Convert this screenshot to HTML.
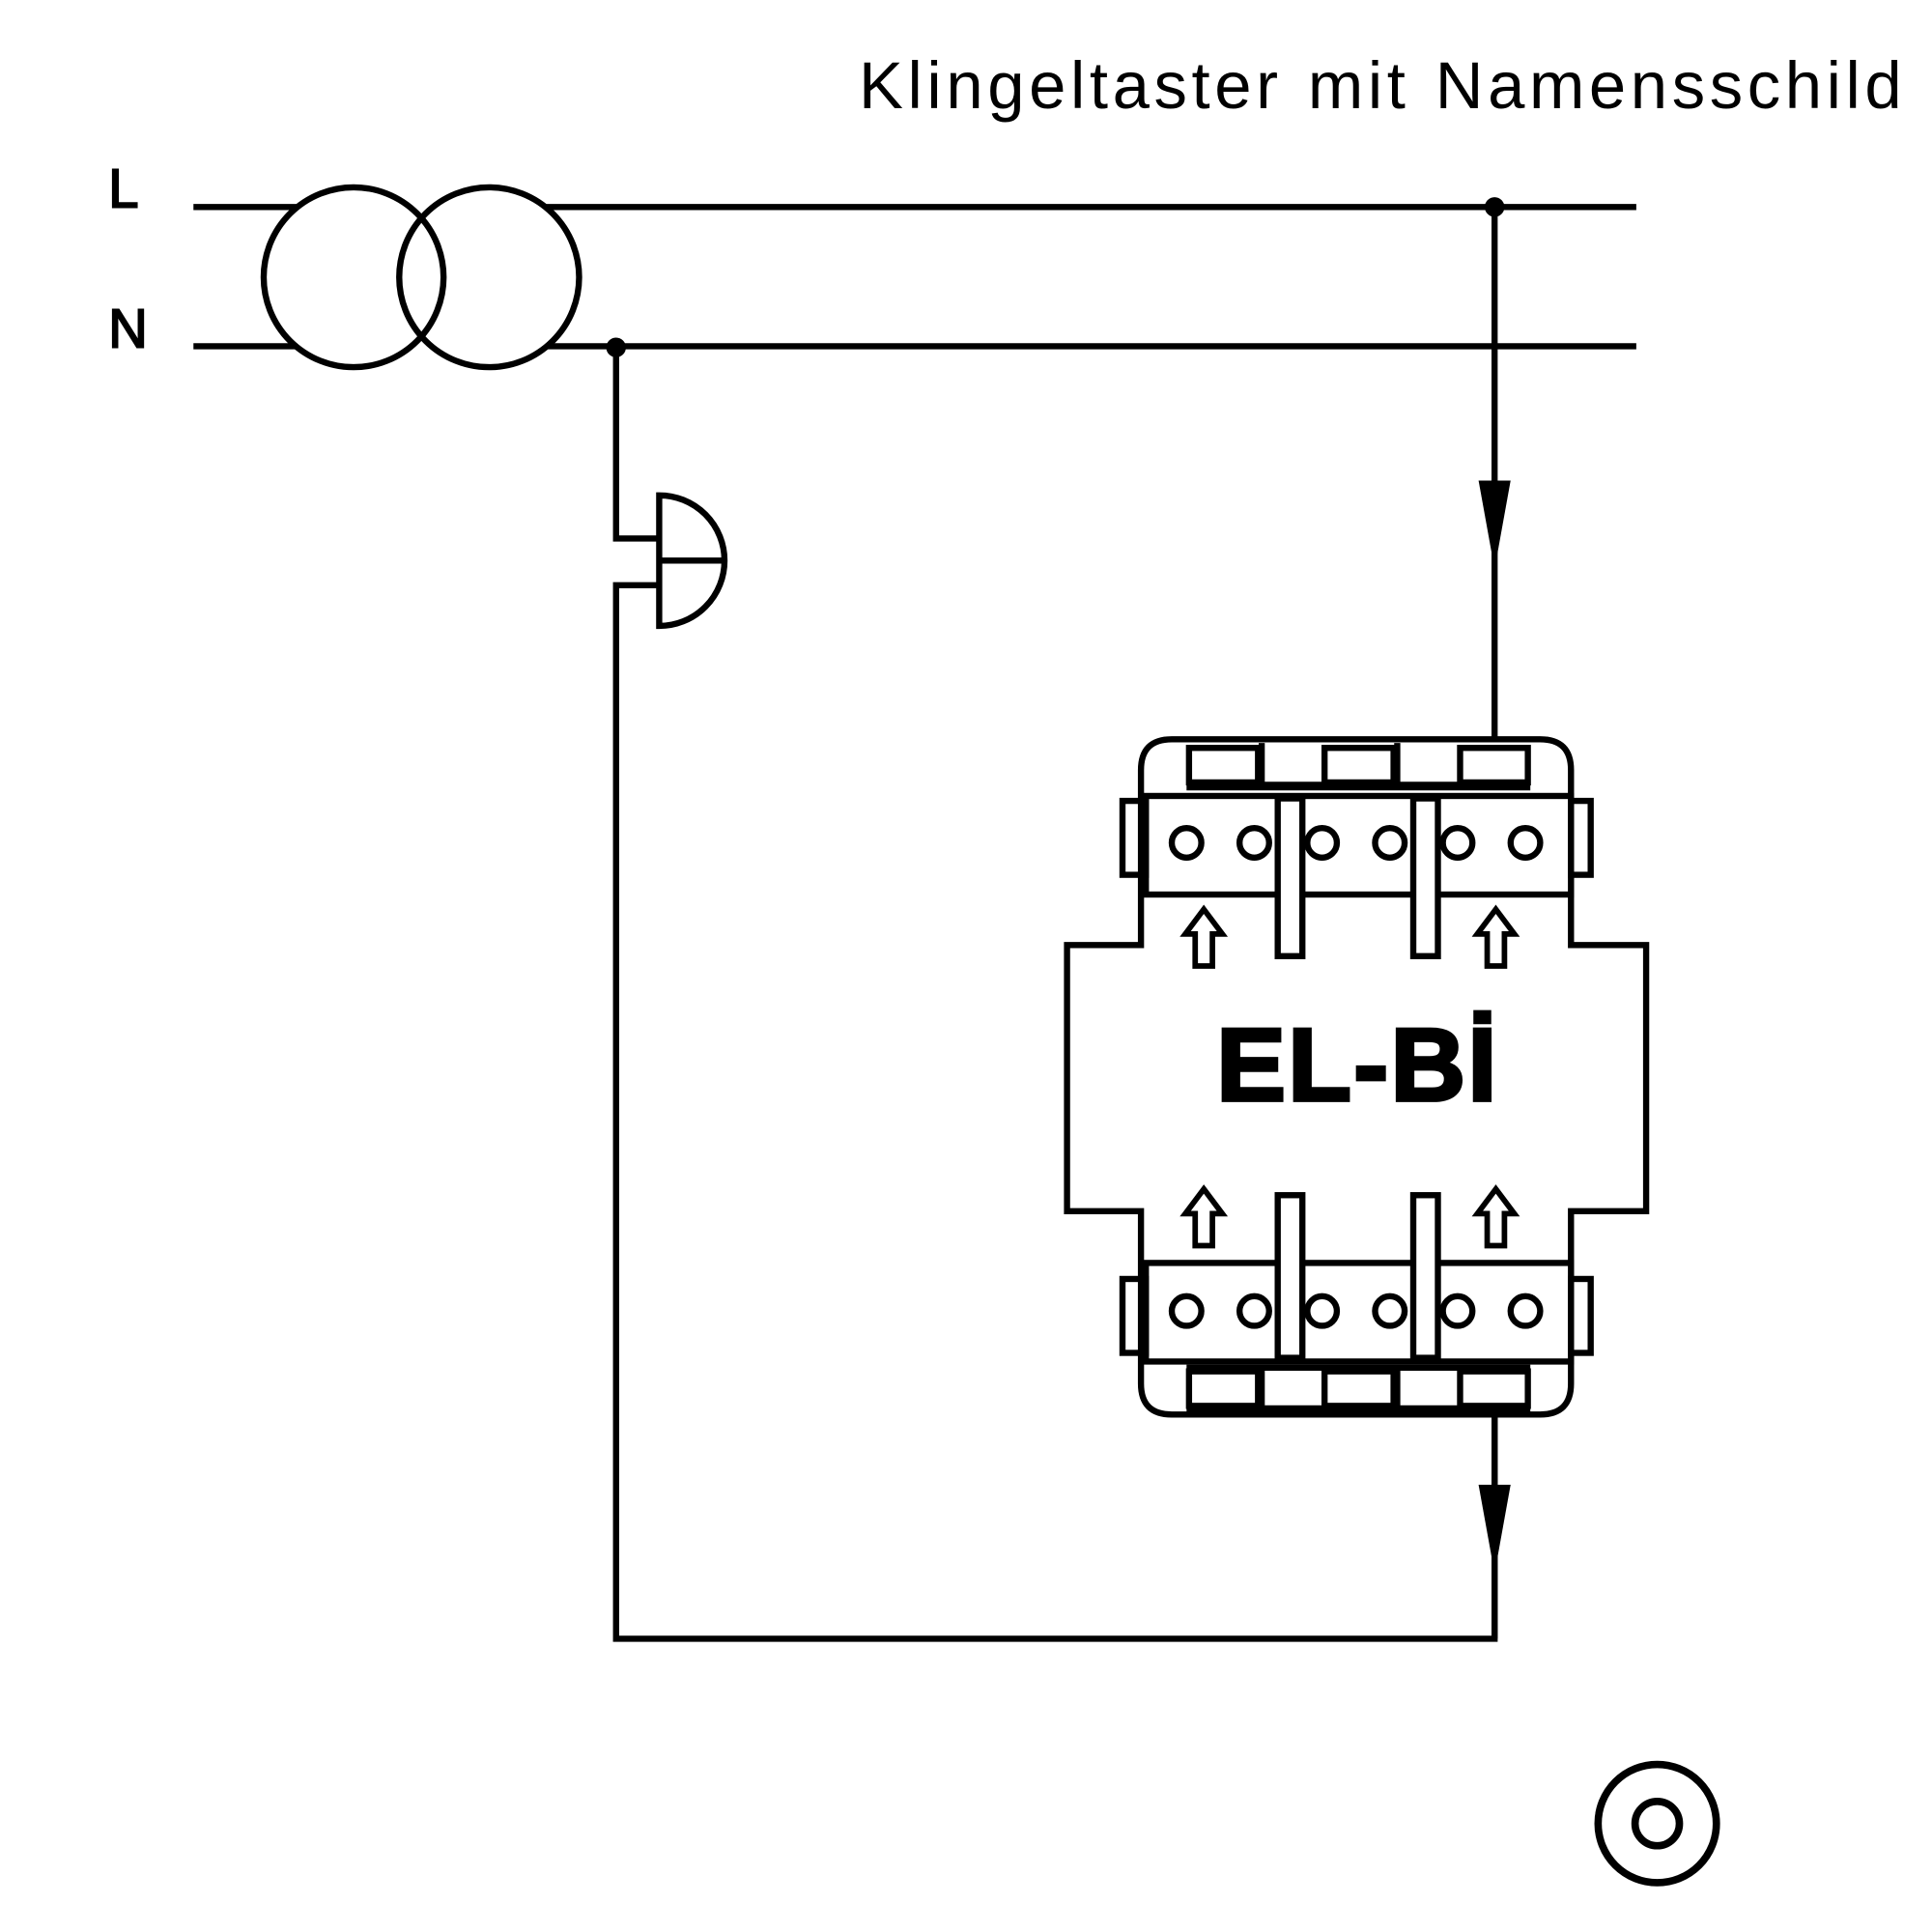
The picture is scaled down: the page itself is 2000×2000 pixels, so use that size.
<!DOCTYPE html>
<html><head><style>html,body{margin:0;padding:0;background:#fff}svg{display:block}</style></head>
<body>
<svg width="2000" height="2000" viewBox="0 0 1568 1568" xmlns="http://www.w3.org/2000/svg">
<rect width="1568" height="1568" fill="#fff"/>
<text x="697" y="88" font-family="Liberation Sans, sans-serif" font-size="54" letter-spacing="3.6" word-spacing="2">Klingeltaster mit Namensschild</text>
<text x="88" y="168" font-family="Liberation Sans, sans-serif" font-size="44" stroke="#000" stroke-width="1.5">L</text>
<text x="88" y="282" font-family="Liberation Sans, sans-serif" font-size="44" stroke="#000" stroke-width="1.5">N</text>
<g stroke="#000" stroke-width="5" fill="none">
<line x1="157" y1="168" x2="241" y2="168"/>
<line x1="443" y1="168" x2="1328" y2="168"/>
<line x1="157" y1="281" x2="241" y2="281"/>
<line x1="443" y1="281" x2="1328" y2="281"/>
<circle cx="287" cy="225" r="73"/>
<circle cx="397" cy="225" r="73"/>
<polyline points="500,281 500,437 535,437"/>
<polyline points="535,475 500,475 500,1330 1213,1330 1213,1148"/>
<path d="M535,402 A53,53 0 0 1 535,508 Z"/>
<line x1="535" y1="455" x2="590" y2="455"/>
<line x1="1213" y1="168" x2="1213" y2="600"/>
<path d="M951,600 H1250 Q1275,600 1275,625 V767 H1336 V983 H1275 V1123 Q1275,1148 1250,1148 H951 Q926,1148 926,1123 V983 H866 V767 H926 V625 Q926,600 951,600 Z"/>
<rect x="965" y="607" width="56" height="28"/>
<rect x="1075" y="607" width="56" height="28"/>
<rect x="1185" y="607" width="55" height="28"/>
<line x1="963" y1="638" x2="1242" y2="638" stroke-width="7"/>
<line x1="1024" y1="603" x2="1024" y2="638"/><line x1="1134" y1="603" x2="1134" y2="638"/>
<rect x="965" y="1113" width="56" height="28"/>
<rect x="1075" y="1113" width="56" height="28"/>
<rect x="1185" y="1113" width="55" height="28"/>
<line x1="963" y1="1144" x2="1242" y2="1144" stroke-width="7"/>
<line x1="963" y1="1110" x2="1242" y2="1110"/>
<line x1="1024" y1="1110" x2="1024" y2="1145"/><line x1="1134" y1="1110" x2="1134" y2="1145"/>
<rect x="930" y="646" width="345" height="80" fill="#fff"/>
<rect x="911" y="650" width="19" height="60"/>
<rect x="1275" y="650" width="16" height="60"/>
<rect x="930" y="1025" width="345" height="80" fill="#fff"/>
<rect x="911" y="1038" width="19" height="60"/>
<rect x="1275" y="1038" width="16" height="60"/>
<g>
<circle cx="963" cy="684" r="12"/><circle cx="1018" cy="684" r="12"/><circle cx="1073" cy="684" r="12"/><circle cx="1128" cy="684" r="12"/><circle cx="1183" cy="684" r="12"/><circle cx="1238" cy="684" r="12"/>
<circle cx="963" cy="1064" r="12"/><circle cx="1018" cy="1064" r="12"/><circle cx="1073" cy="1064" r="12"/><circle cx="1128" cy="1064" r="12"/><circle cx="1183" cy="1064" r="12"/><circle cx="1238" cy="1064" r="12"/>
</g>
<rect x="1037" y="648" width="20" height="128" fill="#fff"/>
<rect x="1147" y="648" width="20" height="128" fill="#fff"/>
<rect x="1037" y="970" width="20" height="132" fill="#fff"/>
<rect x="1147" y="970" width="20" height="132" fill="#fff"/>
<path d="M977,738 L992,758 H984 V784 H970 V758 H962 Z" stroke-width="4.5"/>
<path d="M1214,738 L1229,758 H1221 V784 H1207 V758 H1199 Z" stroke-width="4.5"/>
<path d="M977,965 L992,985 H984 V1011 H970 V985 H962 Z" stroke-width="4.5"/>
<path d="M1214,965 L1229,985 H1221 V1011 H1207 V985 H1199 Z" stroke-width="4.5"/>
<circle cx="1345" cy="1480" r="48" stroke-width="6"/>
<circle cx="1345" cy="1480" r="18" stroke-width="6"/>
</g>
<line x1="1213" y1="1148" x2="1213" y2="1330" stroke="#000" stroke-width="5"/>
<circle cx="1213" cy="168" r="8"/>
<circle cx="500" cy="282" r="8"/>
<polygon points="1200,390 1226,390 1213,462"/>
<polygon points="1200,1205 1226,1205 1213,1277"/>
<text x="1102" y="893" text-anchor="middle" font-family="Liberation Sans, sans-serif" font-weight="bold" font-size="84" stroke="#000" stroke-width="3" letter-spacing="2">EL-Bİ</text>
</svg>
</body></html>
